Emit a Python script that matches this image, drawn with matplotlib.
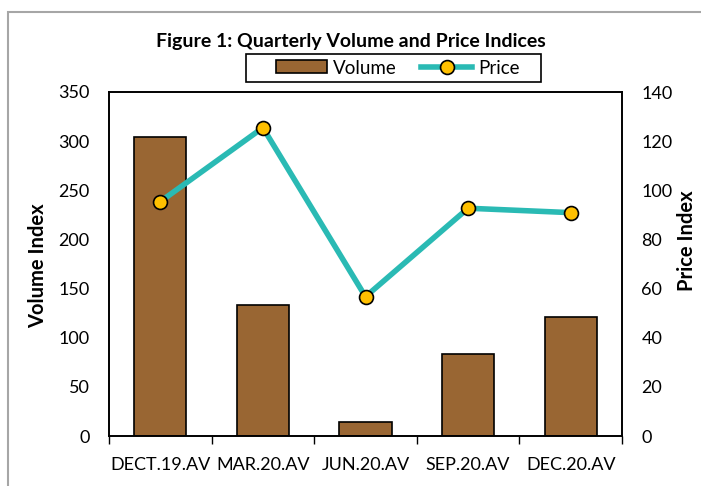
import matplotlib
matplotlib.use("Agg")
import matplotlib.pyplot as plt
from matplotlib.patches import Rectangle
import numpy as np

plt.rcParams['font.family'] = ['Lato', 'DejaVu Sans']

quarters = ['DECT.19.AV', 'MAR.20.AV', 'JUN.20.AV', 'SEP.20.AV', 'DEC.20.AV']
volume = [304, 133, 14.5, 83.5, 121.5]
price = [95.4, 125.5, 56.7, 92.7, 90.9]

bar_color = '#996633'
line_color = '#2ABAB4'
marker_color = '#FFC000'

W, H = 701, 486
fig = plt.figure(figsize=(W / 100, H / 100), dpi=100)
ax = fig.add_axes([109 / W, 1 - 436 / H, 513 / W, 344 / H])

# outer grey frame, cut off on right and bottom like the reference
fig.patches.append(Rectangle((8 / W, -0.1), 1.2, 1 - 12 / H + 0.1,
                             transform=fig.transFigure, fill=False,
                             edgecolor='#A6A6A6', linewidth=1.5))

x = np.arange(len(quarters))
bars = ax.bar(x, volume, width=0.51, color=bar_color, edgecolor='black',
              linewidth=1.2, label='Volume', zorder=2)
ax.set_xlim(-0.5, len(quarters) - 0.5)
ax.set_ylim(0, 350)
ax.set_yticks(range(0, 351, 50))
ax.set_xticks(np.arange(-0.5, len(quarters), 1.0))
ax.set_xticklabels([])
ax.set_xticks(x, minor=True)
ax.set_xticklabels(quarters, minor=True, fontsize=13)
ax.tick_params(axis='x', which='major', direction='out', length=6, width=1)
ax.tick_params(axis='x', which='minor', length=0, pad=15)
ax.tick_params(axis='y', length=0, pad=14, labelsize=13)
for s in ax.spines.values():
    s.set_linewidth(1.2)

ax2 = ax.twinx()
line, = ax2.plot(x, price, color=line_color, linewidth=4, marker='o',
                 markersize=10, markerfacecolor=marker_color,
                 markeredgecolor='black', markeredgewidth=1.2, label='Price',
                 zorder=3)
ax2.set_ylim(0, 140)
ax2.set_yticks(range(0, 141, 20))
ax2.tick_params(axis='y', length=0, pad=14, labelsize=13)
for s in ax2.spines.values():
    s.set_linewidth(1.2)

fig.text(38 / W, 1 - 266 / H, 'Volume Index', rotation=90, ha='center',
         va='center', fontsize=14.5, fontweight='bold')
fig.text(687 / W, 1 - 241 / H, 'Price Index', rotation=90, ha='center',
         va='center', fontsize=14.5, fontweight='bold')
fig.text(351 / W, 1 - 42 / H, 'Figure 1: Quarterly Volume and Price Indices',
         ha='center', va='center', fontsize=14, fontweight='bold')

# legend box drawn by hand so its padding matches the reference
fig.patches.append(Rectangle((246 / W, 1 - 82 / H), 295 / W, 28 / H,
                             transform=fig.transFigure, fill=False,
                             edgecolor='black', linewidth=1.2))
leg = fig.legend([bars, line], ['Volume', 'Price'], loc='center',
                 bbox_to_anchor=(398 / W, 1 - 68 / H), ncol=2,
                 fontsize=13.5, frameon=False,
                 handlelength=2.7, handletextpad=0.35, columnspacing=1.3,
                 borderpad=0.1)

fig.savefig('out.png', dpi=100)
